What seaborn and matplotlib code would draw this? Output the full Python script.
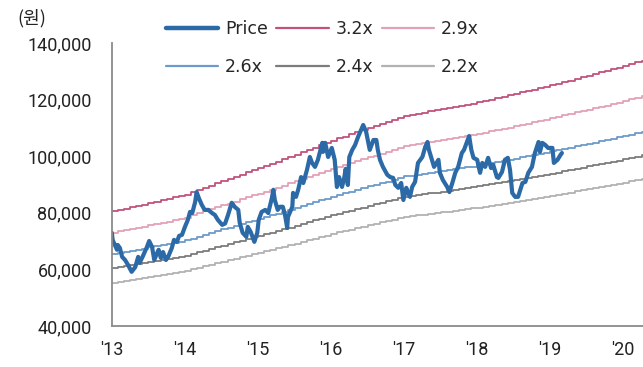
import numpy as np
import pandas as pd
import seaborn as sns
import matplotlib.pyplot as plt
from matplotlib.ticker import FuncFormatter
from matplotlib.lines import Line2D

# 주가 (천원), 소수 연도 기준
price_year = [
    2013.00, 2013.01, 2013.07, 2013.08, 2013.11, 2013.14, 2013.18, 2013.22, 2013.27, 2013.32,
    2013.36, 2013.38, 2013.42, 2013.48, 2013.51, 2013.55, 2013.58, 2013.62, 2013.64, 2013.67,
    2013.70, 2013.74, 2013.77, 2013.82, 2013.85, 2013.89, 2013.92, 2013.96, 2014.00, 2014.04,
    2014.07, 2014.10, 2014.14, 2014.16, 2014.19, 2014.23, 2014.27, 2014.32, 2014.37, 2014.41,
    2014.45, 2014.51, 2014.55, 2014.59, 2014.64, 2014.68, 2014.73, 2014.75, 2014.79, 2014.84,
    2014.86, 2014.90, 2014.95, 2014.99, 2015.01, 2015.05, 2015.10, 2015.14, 2015.19, 2015.21,
    2015.23, 2015.27, 2015.30, 2015.34, 2015.37, 2015.40, 2015.41, 2015.47, 2015.48, 2015.52,
    2015.55, 2015.59, 2015.62, 2015.67, 2015.71, 2015.74, 2015.78, 2015.82, 2015.88, 2015.89,
    2015.92, 2015.96, 2016.01, 2016.05, 2016.08, 2016.11, 2016.15, 2016.18, 2016.20, 2016.23,
    2016.25, 2016.29, 2016.33, 2016.37, 2016.40, 2016.44, 2016.48, 2016.51, 2016.53, 2016.58,
    2016.62, 2016.64, 2016.67, 2016.71, 2016.77, 2016.81, 2016.85, 2016.88, 2016.92, 2016.96,
    2016.99, 2017.03, 2017.05, 2017.08, 2017.11, 2017.15, 2017.19, 2017.25, 2017.29, 2017.32,
    2017.34, 2017.38, 2017.41, 2017.47, 2017.49, 2017.53, 2017.59, 2017.62, 2017.66, 2017.70,
    2017.74, 2017.79, 2017.82, 2017.86, 2017.89, 2017.92, 2017.95, 2018.00, 2018.04, 2018.07,
    2018.11, 2018.15, 2018.19, 2018.22, 2018.27, 2018.29, 2018.34, 2018.38, 2018.42, 2018.45,
    2018.48, 2018.52, 2018.56, 2018.62, 2018.66, 2018.70, 2018.75, 2018.79, 2018.84, 2018.86,
    2018.89, 2018.93, 2018.97, 2019.03, 2019.05, 2019.10, 2019.14, 2019.16,
]
price_value = [
    72.9, 70.4, 66.9, 68.6, 67.5, 64.4, 63.3, 61.6, 59.1, 60.8,
    64.4, 62.3, 64.4, 67.9, 70.0, 67.9, 63.3, 65.8, 66.9, 64.0,
    66.1, 63.3, 64.4, 67.5, 70.4, 69.7, 71.8, 72.2, 75.0, 77.5,
    80.3, 79.9, 83.8, 87.3, 85.2, 82.8, 81.0, 81.0, 79.9, 79.2,
    77.5, 75.7, 76.2, 79.2, 83.5, 82.1, 81.0, 76.4, 72.9, 71.5,
    75.0, 73.2, 69.7, 72.9, 77.5, 80.3, 81.0, 79.9, 85.2, 88.1,
    84.5, 81.0, 82.1, 82.1, 79.2, 74.6, 78.5, 82.1, 87.0, 85.6,
    88.1, 92.6, 90.5, 95.1, 99.7, 97.6, 96.2, 98.7, 104.7, 101.5,
    104.7, 99.7, 102.9, 98.7, 89.1, 92.6, 89.1, 92.3, 95.5, 89.8,
    99.7, 102.2, 104.0, 106.8, 108.6, 111.0, 108.6, 104.7, 102.2, 105.7,
    105.7, 102.2, 98.7, 96.2, 93.4, 92.6, 92.3, 89.8, 88.8, 90.5,
    84.5, 88.8, 87.3, 85.6, 89.1, 90.9, 97.6, 99.7, 103.3, 105.0,
    102.2, 98.7, 96.2, 98.7, 94.1, 91.6, 89.1, 87.3, 90.5, 94.1,
    96.2, 101.1, 102.2, 105.0, 107.1, 102.2, 99.4, 98.7, 94.1, 97.6,
    96.2, 99.4, 95.8, 96.9, 92.6, 92.3, 94.4, 98.7, 99.4, 95.1,
    87.0, 85.6, 85.6, 90.5, 90.9, 94.1, 96.2, 101.1, 105.0, 101.5,
    104.7, 104.0, 102.9, 102.9, 97.6, 98.7, 100.4, 101.1,
]

# 월별 BPS (천원), 2013년 1월부터
bps = [
    25.15, 25.3, 25.45, 25.6, 25.75, 25.9, 26.05, 26.2, 26.35, 26.5, 26.7, 26.85,
    27.0, 27.25, 27.5, 27.75, 28.0, 28.25, 28.5, 28.7, 28.95, 29.2, 29.45, 29.7,
    29.9, 30.15, 30.4, 30.65, 30.9, 31.15, 31.4, 31.7, 31.95, 32.2, 32.45, 32.7,
    32.95, 33.2, 33.4, 33.65, 33.9, 34.1, 34.35, 34.55, 34.8, 35.0, 35.25, 35.5,
    35.7, 35.8, 35.95, 36.05, 36.2, 36.3, 36.45, 36.55, 36.7, 36.8, 36.95, 37.05,
    37.2, 37.35, 37.5, 37.65, 37.8, 37.95, 38.1, 38.3, 38.45, 38.6, 38.75, 38.9,
    39.1, 39.25, 39.45, 39.6, 39.8, 39.95, 40.15, 40.3, 40.5, 40.65, 40.85, 41.0,
    41.2, 41.4, 41.6, 41.8, 42.0,
]
multiples = [3.2, 2.9, 2.6, 2.4, 2.2]
band_labels = ["3.2x", "2.9x", "2.6x", "2.4x", "2.2x"]
band_colors = ["#C2527C", "#E3A1B6", "#6C9BCB", "#7C7C7C", "#B2B2B2"]
price_color = "#2B6AA7"

year_ticks = list(range(2013, 2021))
year_labels = ["'13", "'14", "'15", "'16", "'17", "'18", "'19", "'20"]

bps_year = 2013 + np.arange(len(bps)) / 12
bands = pd.concat([
    pd.DataFrame({"year": bps_year, "value": np.array(bps) * 1000 * m, "band": lab})
    for m, lab in zip(multiples, band_labels)
])
price = pd.DataFrame({"year": price_year, "value": np.array(price_value) * 1000})

sns.set_style("white")
tick_font = ["Roboto", "DejaVu Sans"]

fig = plt.figure(figsize=(6.43, 3.67), dpi=100)
ax = fig.add_axes([0.174, 0.112, 0.826, 0.771])

sns.lineplot(data=bands, x="year", y="value", hue="band", hue_order=band_labels,
             palette=band_colors, drawstyle="steps-post", linewidth=1.3,
             legend=False, ax=ax)
sns.lineplot(data=price, x="year", y="value", color=price_color, linewidth=3.0,
             legend=False, ax=ax)

ax.set_xlim(2013, 2020.27)
ax.set_ylim(40000, 140000)
ax.set_yticks(range(40000, 140001, 20000))
ax.set_xticks(year_ticks)
ax.set_xticklabels(year_labels)
ax.yaxis.set_major_formatter(FuncFormatter(lambda v, p: f"{int(v):,}"))
ax.set_xlabel("")
ax.set_ylabel("")

for s in ["top", "right"]:
    ax.spines[s].set_visible(False)
for s in ["left", "bottom"]:
    ax.spines[s].set_color("#8A8A8A")
    ax.spines[s].set_linewidth(1.3)
ax.tick_params(axis="both", direction="in", length=3, width=1, color="#8A8A8A",
               labelsize=13, labelcolor="#222222")
ax.tick_params(axis="y", pad=14.5)
ax.tick_params(axis="x", pad=11)
for t in ax.get_xticklabels() + ax.get_yticklabels():
    t.set_family(tick_font)

# 범례: 행 우선 순서로 배치
h_price = Line2D([], [], color=price_color, linewidth=3.2, solid_capstyle="round")
h_bands = [Line2D([], [], color=c, linewidth=1.6) for c in band_colors]
handles = [h_price, h_bands[2], h_bands[0], h_bands[3], h_bands[1], h_bands[4]]
labels = ["Price", "2.6x", "3.2x", "2.4x", "2.9x", "2.2x"]
fig.legend(handles, labels, ncol=3, loc="upper left", bbox_to_anchor=(0.258, 0.946),
           frameon=False, fontsize=12.5, handlelength=3.0, handletextpad=0.4,
           columnspacing=0.5, labelspacing=1.15, borderpad=0, borderaxespad=0)

fig.text(0.05, 0.951, "(원)", fontsize=13, ha="center", va="center",
         family=["Noto Sans CJK KR", "DejaVu Sans"], color="#222222")

fig.savefig("out.png", dpi=100)
